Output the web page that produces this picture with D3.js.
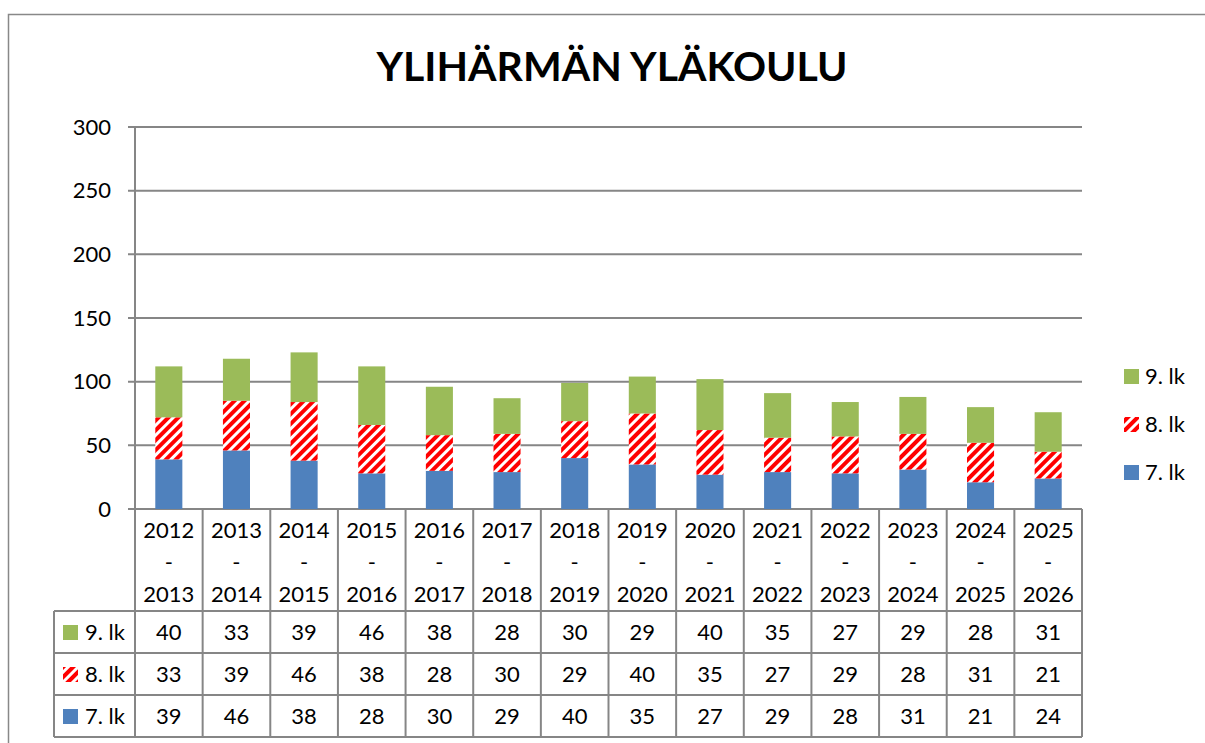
<!DOCTYPE html>
<html>
<head>
    <meta charset="utf-8">
    <title>Ylihärmän yläkoulu</title>
    <script src="https://d3js.org/d3.v7.min.js"></script>
    <style>
        body { margin: 0; background: #fff; }
        svg text { font-family: Lato, "Open Sans", sans-serif; fill: #000; }
    </style>
</head>
<body>
    <svg id="chart" width="1205" height="743"></svg>

    <script>
        // data
        const years = ["2012", "2013", "2014", "2015", "2016", "2017", "2018", "2019", "2020", "2021", "2022", "2023", "2024", "2025"];
        const yearsEnd = ["2013", "2014", "2015", "2016", "2017", "2018", "2019", "2020", "2021", "2022", "2023", "2024", "2025", "2026"];
        const lk7 = [39, 46, 38, 28, 30, 29, 40, 35, 27, 29, 28, 31, 21, 24];
        const lk8 = [33, 39, 46, 38, 28, 30, 29, 40, 35, 27, 29, 28, 31, 21];
        const lk9 = [40, 33, 39, 46, 38, 28, 30, 29, 40, 35, 27, 29, 28, 31];
        const seriesNames = ["7. lk", "8. lk", "9. lk"];
        const yTicks = [0, 50, 100, 150, 200, 250, 300];

        const svg = d3.select("svg#chart");
        const margin = { top: 127, right: 123, bottom: 234, left: 135 };
        const width = 1205 - margin.left - margin.right;
        const height = 743 - margin.top - margin.bottom;
        const gridColor = "#868686";
        const fontSize = "22px";

        // striped fill for 8. lk
        const defs = svg.append("defs");
        const pat = defs.append("pattern")
            .attr("id", "stripes")
            .attr("patternUnits", "userSpaceOnUse")
            .attr("width", 7).attr("height", 7)
            .attr("patternTransform", "rotate(45)");
        pat.append("rect").attr("width", 7).attr("height", 7).attr("fill", "#ff0000");
        pat.append("rect").attr("x", 0).attr("width", 3).attr("height", 7).attr("fill", "#ffffff");

        const fills = { "7. lk": "#4f81bd", "8. lk": "url(#stripes)", "9. lk": "#9bbb59" };

        // outer frame (top and left edge visible)
        svg.append("path")
            .attr("d", "M8.5,743 L8.5,14.5 L1205,14.5")
            .attr("fill", "none").attr("stroke", "#888").attr("stroke-width", 1.5);

        svg.append("text")
            .attr("x", 612).attr("y", 81)
            .attr("text-anchor", "middle")
            .style("font-size", "41px").style("font-weight", "bold")
            .text("YLIHÄRMÄN YLÄKOULU");

        const g = svg.append("g").attr("transform", "translate(" + margin.left + "," + margin.top + ")");

        const x = d3.scaleBand().domain(years).range([0, width]).paddingInner(0.6).paddingOuter(0.3);
        const xCol = d3.scaleBand().domain(years).range([0, width]);
        const y = d3.scaleLinear().domain([0, 300]).range([height, 0]);

        // gridlines
        g.selectAll(".grid").data(yTicks).join("line")
            .attr("class", "grid")
            .attr("x1", -7).attr("x2", width)
            .attr("y1", d => y(d)).attr("y2", d => y(d))
            .attr("stroke", gridColor).attr("stroke-width", 2);

        g.append("line")
            .attr("x1", 0).attr("x2", 0).attr("y1", 0).attr("y2", height)
            .attr("stroke", gridColor).attr("stroke-width", 2);

        g.selectAll(".ylab").data(yTicks).join("text")
            .attr("class", "ylab")
            .attr("x", -24).attr("y", d => y(d)).attr("dy", "0.35em")
            .attr("text-anchor", "end")
            .style("font-size", fontSize)
            .text(d => d);

        // stacked bars
        const rows = years.map((yr, i) => ({ year: yr, "7. lk": lk7[i], "8. lk": lk8[i], "9. lk": lk9[i] }));
        const stack = d3.stack().keys(seriesNames)(rows);

        g.selectAll(".series").data(stack).join("g")
            .attr("class", "series")
            .attr("fill", d => fills[d.key])
            .selectAll("rect").data(d => d).join("rect")
            .attr("x", d => x(d.data.year))
            .attr("width", x.bandwidth())
            .attr("y", d => y(d[1]))
            .attr("height", d => y(d[0]) - y(d[1]));

        // data table below the plot
        const headerH = 102;
        const rowH = 42;
        const tableRows = [["9. lk", lk9], ["8. lk", lk8], ["7. lk", lk7]];
        const tbl = g.append("g").attr("transform", "translate(0," + height + ")");
        const leftX = -81;

        // header cells
        years.forEach((yr, i) => {
            const cx = xCol(yr) + xCol.bandwidth() / 2;
            tbl.append("text").attr("x", cx).attr("y", 29).attr("text-anchor", "middle").style("font-size", fontSize).text(yr);
            tbl.append("text").attr("x", cx).attr("y", 61).attr("text-anchor", "middle").style("font-size", fontSize).text("-");
            tbl.append("text").attr("x", cx).attr("y", 93).attr("text-anchor", "middle").style("font-size", fontSize).text(yearsEnd[i]);
        });

        tableRows.forEach((r, ri) => {
            const top = headerH + ri * rowH;
            tbl.append("rect")
                .attr("x", leftX + 9).attr("y", top + rowH / 2 - 7)
                .attr("width", 15).attr("height", 15)
                .attr("fill", fills[r[0]]);
            tbl.append("text")
                .attr("x", leftX + 31).attr("y", top + rowH / 2).attr("dy", "0.35em")
                .style("font-size", fontSize).text(r[0]);
            r[1].forEach((v, i) => {
                tbl.append("text")
                    .attr("x", xCol(years[i]) + xCol.bandwidth() / 2)
                    .attr("y", top + rowH / 2).attr("dy", "0.35em")
                    .attr("text-anchor", "middle")
                    .style("font-size", fontSize).text(v);
            });
        });

        // table lines
        const tableBottom = headerH + rowH * 3;
        const lineStyle = sel => sel.attr("stroke", gridColor).attr("stroke-width", 2);
        years.forEach(yr => {
            lineStyle(tbl.append("line").attr("x1", xCol(yr)).attr("x2", xCol(yr)).attr("y1", 0).attr("y2", tableBottom));
        });
        lineStyle(tbl.append("line").attr("x1", width).attr("x2", width).attr("y1", 0).attr("y2", tableBottom));
        lineStyle(tbl.append("line").attr("x1", leftX).attr("x2", leftX).attr("y1", headerH).attr("y2", tableBottom));
        [headerH, headerH + rowH, headerH + rowH * 2, tableBottom].forEach(yy => {
            lineStyle(tbl.append("line").attr("x1", leftX).attr("x2", width).attr("y1", yy).attr("y2", yy));
        });

        // legend
        const legend = svg.selectAll(".legend").data(["9. lk", "8. lk", "7. lk"]).join("g")
            .attr("class", "legend")
            .attr("transform", (d, i) => "translate(1124," + (376 + i * 48) + ")");
        legend.append("rect")
            .attr("x", 0).attr("y", -7).attr("width", 15).attr("height", 15)
            .attr("fill", d => fills[d]);
        legend.append("text")
            .attr("x", 21).attr("dy", "0.35em")
            .style("font-size", fontSize)
            .text(d => d);
    </script>
</body>
</html>
